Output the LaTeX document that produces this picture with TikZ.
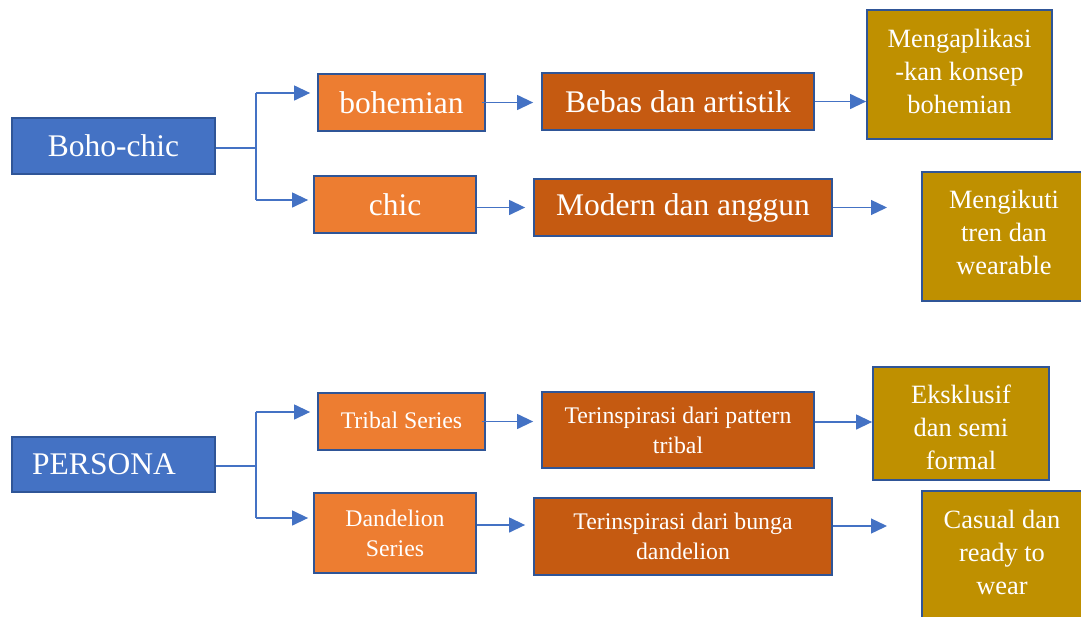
\documentclass[tikz,border=0pt]{standalone}
\usepackage{fontspec}
\setmainfont{Liberation Serif}
\usetikzlibrary{arrows.meta,calc}
\definecolor{bblue}{HTML}{4472C4}
\definecolor{bdark}{HTML}{2F5597}
\definecolor{orng}{HTML}{ED7D31}
\definecolor{dorng}{HTML}{C55A11}
\definecolor{gold}{HTML}{BF9000}
\newcommand{\fbig}{\fontsize{31.5}{36}\selectfont}
\newcommand{\fmid}{\fontsize{26.4}{33}\selectfont}
\newcommand{\fsml}{\fontsize{23.8}{30}\selectfont}
\tikzset{
  boxbase/.style={draw=bdark, line width=1.8pt, text=white, inner sep=0pt, align=center, rectangle},
  bluebox/.style={boxbase, fill=bblue, font=\fbig},
  orbox/.style={boxbase, fill=orng},
  dobox/.style={boxbase, fill=dorng},
  goldbox/.style={boxbase, fill=gold, font=\fmid},
  goldtxt/.style={text=white, font=\fmid, align=center, inner sep=0pt},
  link/.style={draw=bblue, line width=1.3pt},
  arr/.style={link, -{Triangle[length=16pt,width=15pt]}},
}
\begin{document}
\begin{tikzpicture}[x=1pt,y=-1pt]
\useasboundingbox (0,0) rectangle (1081,616);
% Boho-chic group
\node[bluebox, minimum width=203pt, minimum height=56pt] (boho) at (113.5,146) {Boho-chic};
\node[orbox, font=\fbig, minimum width=167pt, minimum height=57pt] (bohemian) at (401.5,102.5) {bohemian};
\node[orbox, font=\fbig, minimum width=162pt, minimum height=57pt] (chic) at (395,204.5) {chic};
\node[dobox, font=\fbig, minimum width=272pt, minimum height=57pt] (bebas) at (678,101.5) {Bebas dan artistik};
\node[dobox, font=\fbig, minimum width=298pt, minimum height=57pt] (modern) at (683,207.5) {Modern dan anggun};
\node[goldbox, minimum width=185pt, minimum height=129pt,
  label={[goldtxt, yshift=3pt]center:Mengaplikasi\\-kan konsep\\bohemian}] (meng) at (959.5,74.5) {};
\node[goldbox, minimum width=164pt, minimum height=129pt,
  label={[goldtxt, yshift=4pt]center:Mengikuti\\tren dan\\wearable}] (ikut) at (1004,236.5) {};
% PERSONA group
\node[bluebox, minimum width=203pt, minimum height=55pt] (persona) at (113.5,464.5) {PERSONA\hspace{19pt}};
\node[orbox, font=\fsml, minimum width=167pt, minimum height=57pt] (tribal) at (401.5,421.5) {\raisebox{3pt}{Tribal Series}};
\node[orbox, font=\fsml, minimum width=162pt, minimum height=80pt] (dand) at (395,533) {Dandelion\\Series};
\node[dobox, font=\fsml, minimum width=272pt, minimum height=76pt] (tpat) at (678,430) {Terinspirasi dari pattern\\tribal};
\node[dobox, font=\fsml, minimum width=298pt, minimum height=77pt] (tbunga) at (683,536.5) {Terinspirasi dari bunga\\dandelion};
\node[goldbox, minimum width=176pt, minimum height=113pt,
  label={[goldtxt, yshift=-4pt]center:Eksklusif\\dan semi\\formal}] (eks) at (961,423.5) {};
\node[goldbox, anchor=north, minimum width=160pt, minimum height=150pt,
  label={[goldtxt, yshift=13pt]center:Casual dan\\ready to\\wear}] (casual) at (1002,490) {};
% connectors top
\coordinate (j1) at (256,148);
\coordinate (j1a) at (256,93);
\coordinate (j1b) at (256,200);
\draw[link] (boho.east |- j1) -- (j1);
\draw[link] (j1a) -- (j1b);
\draw[arr, shorten >=7pt] (j1a) -- (bohemian.west |- j1a);
\draw[arr, shorten >=5pt] (j1b) -- (chic.west |- j1b);
\draw[arr, shorten >=8pt] ($(bohemian.east)+(-4,0)$) -- (bebas.west |- bohemian.east);
\draw[arr, shorten >=8pt] (chic.east |- modern.west) -- (modern.west);
\draw[arr] (bebas.east) -- (meng.west |- bebas.east);
\coordinate (f1) at (887,207.5);
\draw[arr] (modern.east) -- (f1);
% connectors bottom
\coordinate (j2) at (256,466);
\coordinate (j2a) at (256,412);
\coordinate (j2b) at (256,518);
\draw[link] (persona.east |- j2) -- (j2);
\draw[link] (j2a) -- (j2b);
\draw[arr, shorten >=7pt] (j2a) -- (tribal.west |- j2a);
\draw[arr, shorten >=5pt] (j2b) -- (dand.west |- j2b);
\draw[arr, shorten >=8pt] ($(tribal.east)+(-4,0)$) -- (tpat.west |- tribal.east);
\coordinate (d1) at ($(dand.east)+(0,-8)$);
\draw[arr, shorten >=8pt] (d1) -- (d1 -| tbunga.west);
\coordinate (t1) at ($(tpat.east)+(0,-8)$);
\draw[arr] (t1) -- (t1 -| eks.west);
\coordinate (t2) at ($(tbunga.east)+(0,-10.5)$);
\coordinate (f2) at (887,526);
\draw[arr] (t2) -- (f2);
\end{tikzpicture}
\end{document}
